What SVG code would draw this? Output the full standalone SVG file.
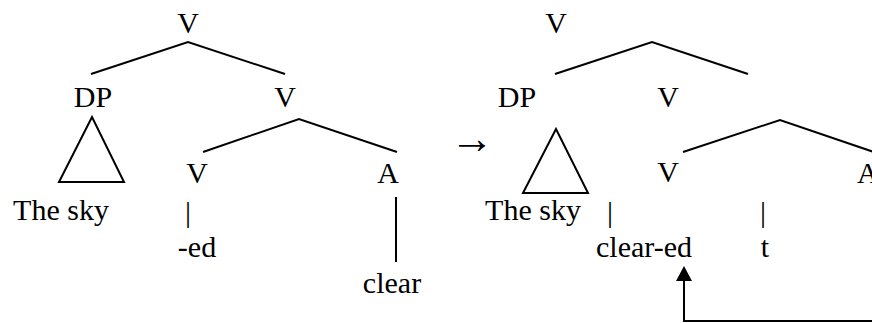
<svg xmlns="http://www.w3.org/2000/svg" width="872" height="323" viewBox="0 0 872 323">
<style>
text{font-family:'Liberation Serif','Times New Roman',serif;font-size:30px;fill:#000;text-anchor:middle}
.s{text-anchor:start}
.arr{font-size:44px}
line,polyline,polygon.t{stroke:#000;stroke-width:2;fill:none}
</style>
<rect width="872" height="323" fill="#fff"/>
<g id="left-tree">
<g id="l-v-root"><text x="188" y="33">V</text></g>
<g id="l-dp"><text x="93" y="107">DP</text></g>
<g id="l-vbar"><text x="285" y="107">V</text></g>
<g id="l-triangle"><polygon class="t" points="92,117 59,182 124,182"/></g>
<g id="l-v"><text x="197" y="183">V</text></g>
<g id="l-a"><text x="388" y="183">A</text></g>
<g id="l-thesky"><text x="61" y="220">The sky</text></g>
<g id="l-pipe"><text x="188" y="222">|</text></g>
<g id="l-ed"><text x="197" y="257">-ed</text></g>
<g id="l-clear"><text x="392" y="293">clear</text></g>
</g>
<g id="shift-arrow"><text class="arr" x="472" y="153">→</text></g>
<g id="right-tree">
<g id="r-v-root"><text x="556" y="33">V</text></g>
<g id="r-dp"><text x="517" y="107">DP</text></g>
<g id="r-vbar"><text x="668" y="107">V</text></g>
<g id="r-triangle"><polygon class="t" points="556,129 523,193 588,193"/></g>
<g id="r-v"><text x="668" y="182">V</text></g>
<g id="r-a"><text x="857" y="183" class="s">A</text></g>
<g id="r-thesky"><text x="533" y="220">The sky</text></g>
<g id="r-pipe1"><text x="610" y="222">|</text></g>
<g id="r-pipe2"><text x="763" y="222">|</text></g>
<g id="r-cleared"><text x="644" y="257">clear-ed</text></g>
<g id="r-t"><text x="765" y="257">t</text></g>
</g>
<g id="connectors">
<polyline points="91,74 188,42 285,74"/>
<polyline points="203,152 299,119 397,152"/>
<line x1="396" y1="197" x2="396" y2="262"/>
<polyline points="555,74 652,42 748,74"/>
<polyline points="683,152 780,120 874,152"/>
<polyline points="874,321 684,321 684,281"/>
<polygon points="684,266 676,281 692,281" fill="#000"/>
</g>
</svg>
